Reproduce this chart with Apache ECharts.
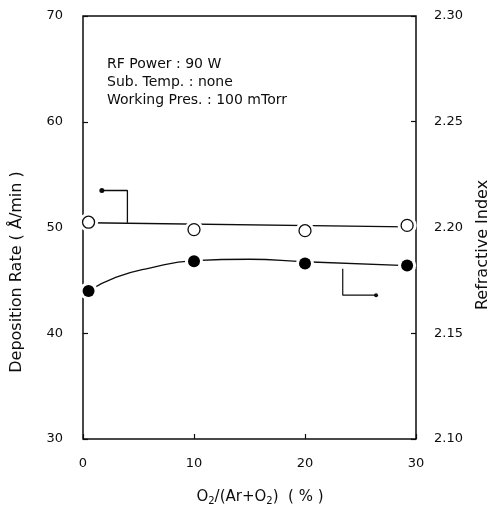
<!DOCTYPE html>
<html>
<head>
<meta charset="utf-8">
<script src="https://cdn.jsdelivr.net/npm/echarts@6/dist/echarts.min.js"></script>
<style>html,body{margin:0;padding:0;background:#fff;}#c{width:500px;height:512px;}</style>
</head>
<body>
<div id="c"></div>
<script>
// Data
const o2Percent = [0.5, 10, 20, 29.2];
const depositionRate = [50.5, 49.8, 49.7, 50.2];          // open circles, left axis (Å/min)
const refractiveIndex = [2.170, 2.184, 2.183, 2.182];     // filled circles, right axis
// fitted curves as drawn in the figure
const depFitX = [0.5, 29.2];
const depFitY = [50.45, 50.05];
const refFitX = [0.5, 3, 6, 10, 15, 20, 29.2];
const refFitY = [2.170, 2.1765, 2.1808, 2.1843, 2.1850, 2.1838, 2.1820];
// arrow annotations (data units)
const arrowLeftX = [1.7, 4.0, 4.0];
const arrowLeftY = [53.5, 53.5, 50.45];
const arrowRightX = [23.4, 23.4, 26.4];
const arrowRightY = [46.1, 43.6, 43.6];
// axis ticks
const xTicks = [0, 10, 20, 30];
const leftTicks = [30, 40, 50, 60, 70];
const rightTicks = [2.10, 2.15, 2.20, 2.25, 2.30];

const zip = (a, b) => a.map((v, i) => [v, b[i]]);
const FONT = 'DejaVu Sans';
const INK = '#0d0d0d';

const chart = echarts.init(document.getElementById('c'));
chart.setOption({
  animation: false,
  backgroundColor: '#fff',
  textStyle: { fontFamily: FONT },
  grid: { left: 83, right: 84, top: 16, bottom: 73, show: true, borderColor: INK, borderWidth: 1.5, backgroundColor: 'transparent' },
  xAxis: {
    type: 'value', min: xTicks[0], max: xTicks[xTicks.length - 1], interval: 10,
    axisLine: { show: false },
    axisTick: { show: true, inside: true, length: 5, lineStyle: { color: INK, width: 1.2 } },
    splitLine: { show: false },
    axisLabel: { color: INK, fontSize: 13, fontFamily: FONT, margin: 18 }
  },
  yAxis: [{
    type: 'value', min: leftTicks[0], max: leftTicks[leftTicks.length - 1], interval: 10, position: 'left',
    axisLine: { show: false },
    axisTick: { show: true, inside: true, length: 5, lineStyle: { color: INK, width: 1.2 } },
    splitLine: { show: false },
    axisLabel: { color: INK, fontSize: 13, fontFamily: FONT, margin: 20 }
  }, {
    type: 'value', min: rightTicks[0], max: rightTicks[rightTicks.length - 1], interval: 0.05, position: 'right',
    axisLine: { show: false },
    axisTick: { show: true, inside: true, length: 5, lineStyle: { color: INK, width: 1.2 } },
    splitLine: { show: false },
    axisLabel: { color: INK, fontSize: 13, fontFamily: FONT, margin: 18, formatter: v => v.toFixed(2) }
  }],
  series: [
    { type: 'line', yAxisIndex: 0, data: zip(depFitX, depFitY), showSymbol: false, symbol: 'none',
      lineStyle: { color: INK, width: 1.3 }, z: 2 },
    { type: 'line', yAxisIndex: 1, data: zip(refFitX, refFitY), smooth: 0.5, symbol: 'none',
      lineStyle: { color: INK, width: 1.3 }, z: 2 },
    { type: 'line', yAxisIndex: 0, data: zip(arrowLeftX, arrowLeftY).map((p, i) => i === 0 ? { value: p, symbol: 'circle', symbolSize: 5 } : { value: p, symbol: 'none' }),
      lineStyle: { color: INK, width: 1.3 }, itemStyle: { color: INK }, z: 2 },
    { type: 'line', yAxisIndex: 0, data: zip(arrowRightX, arrowRightY).map((p, i) => i === arrowRightX.length - 1 ? { value: p, symbol: 'circle', symbolSize: 4 } : { value: p, symbol: 'none' }),
      lineStyle: { color: INK, width: 1.2 }, itemStyle: { color: INK }, z: 2 },
    // white halos so the curves stop short of the markers
    { type: 'scatter', yAxisIndex: 0, data: zip(o2Percent, depositionRate), symbolSize: 19,
      itemStyle: { color: '#fff', opacity: 1 }, z: 3, silent: true },
    { type: 'scatter', yAxisIndex: 1, data: zip(o2Percent, refractiveIndex), symbolSize: 18,
      itemStyle: { color: '#fff', opacity: 1 }, z: 3, silent: true },
    { type: 'scatter', yAxisIndex: 0, data: zip(o2Percent, depositionRate), symbolSize: 12,
      itemStyle: { color: '#fff', borderColor: INK, borderWidth: 1.3, opacity: 1 }, z: 4 },
    { type: 'scatter', yAxisIndex: 1, data: zip(o2Percent, refractiveIndex), symbolSize: 12,
      itemStyle: { color: '#000', opacity: 1 }, z: 4 }
  ],
  graphic: [
    { type: 'text', left: 107, top: 57, style: { text: 'RF Power : 90 W', font: '14px "DejaVu Sans"', fill: INK } },
    { type: 'text', left: 107, top: 75, style: { text: 'Sub. Temp. : none', font: '14px "DejaVu Sans"', fill: INK } },
    { type: 'text', left: 107, top: 93, style: { text: 'Working Pres. : 100 mTorr', font: '14px "DejaVu Sans"', fill: INK } },
    { type: 'text', x: 17, y: 272, rotation: Math.PI / 2,
      style: { text: 'Deposition Rate ( Å/min )', font: '16px "DejaVu Sans"', fill: INK, align: 'center', verticalAlign: 'middle' } },
    { type: 'text', x: 483, y: 245, rotation: Math.PI / 2,
      style: { text: 'Refractive Index', font: '16px "DejaVu Sans"', fill: INK, align: 'center', verticalAlign: 'middle' } },
    { type: 'text', x: 260, y: 497,
      style: { text: '{n|O}{s|2}{n|/(Ar+O}{s|2}{n|)  ( % )}', align: 'center', verticalAlign: 'middle',
        rich: { n: { font: '15px "DejaVu Sans"', fill: INK }, s: { font: '10px "DejaVu Sans"', fill: INK, padding: [8, 0, 0, 0] } } } }
  ]
});
</script>
</body>
</html>
